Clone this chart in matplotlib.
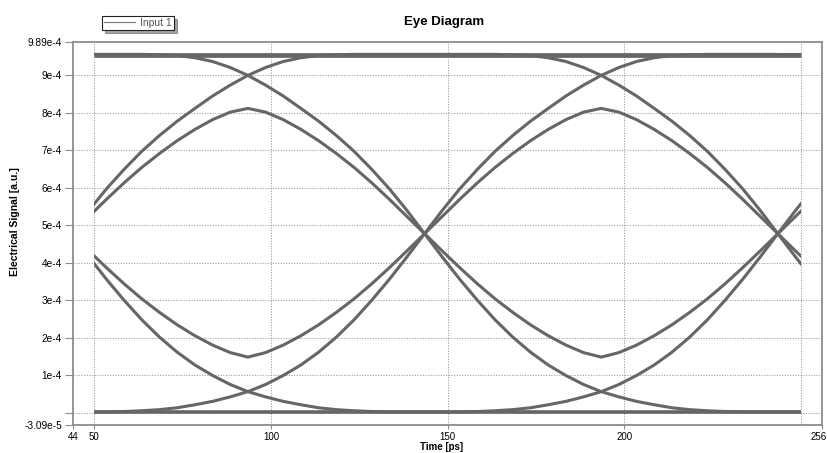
import matplotlib
matplotlib.use("Agg")
import matplotlib.pyplot as plt
import matplotlib.transforms as mtransforms
from matplotlib.lines import Line2D
from matplotlib.patches import Rectangle

plt.rcParams["font.family"] = ["Liberation Sans", "DejaVu Sans"]

# =====================================================
# DATA (signal values in units of 1e-4 a.u.)
# =====================================================
SCALE = 1e-4

# time offset inside one bit slot [ps], measured from the crossing point
TAU = [0, 5, 10, 15, 20, 25, 30, 35, 40, 45, 50,
       55, 60, 65, 70, 75, 80, 85, 90, 95, 100]

# start of each bit slot (eye crossing) [ps]
SLOT_STARTS = [43.5, 143.5, 243.5]

# shapes of the traces inside one bit slot
RISE_011 = [4.78, 5.40, 5.98, 6.50, 6.98, 7.40, 7.78, 8.12, 8.45, 8.74, 9.00,
            9.21, 9.37, 9.47, 9.53, 9.55, 9.56, 9.56, 9.56, 9.56, 9.56]
FALL_110 = [9.56, 9.56, 9.56, 9.56, 9.56, 9.55, 9.53, 9.47, 9.37, 9.21, 9.00,
            8.74, 8.45, 8.12, 7.78, 7.40, 6.98, 6.50, 5.98, 5.40, 4.78]
PEAK_010 = [4.78, 5.24, 5.70, 6.14, 6.55, 6.92, 7.26, 7.56, 7.82, 8.02, 8.12,
            8.02, 7.82, 7.56, 7.26, 6.92, 6.55, 6.14, 5.70, 5.24, 4.78]
RISE_001 = [0.03, 0.03, 0.03, 0.04, 0.06, 0.09, 0.14, 0.22, 0.31, 0.43, 0.57,
            0.76, 1.00, 1.28, 1.62, 2.02, 2.48, 3.00, 3.56, 4.16, 4.78]
FALL_100 = [4.78, 4.16, 3.56, 3.00, 2.48, 2.02, 1.62, 1.28, 1.00, 0.76, 0.57,
            0.43, 0.31, 0.22, 0.14, 0.09, 0.06, 0.04, 0.03, 0.03, 0.03]
DIP_101 = [4.78, 4.32, 3.87, 3.44, 3.04, 2.68, 2.35, 2.06, 1.81, 1.61, 1.49,
           1.61, 1.81, 2.06, 2.35, 2.68, 3.04, 3.44, 3.87, 4.32, 4.78]

SHAPES = [RISE_011, FALL_110, PEAK_010, RISE_001, FALL_100, DIP_101]

HIGH_LEVEL = 9.55
LOW_LEVEL = 0.03
T_START, T_END = 50, 250

# axis ticks
X_TICKS = [44, 50, 100, 150, 200, 256]
X_GRID = [50, 100, 150, 200, 250]
Y_TICKS = [-0.309, 0, 1, 2, 3, 4, 5, 6, 7, 8, 9, 9.89]
Y_LABELS = ["-3.09e-5", "", "1e-4", "2e-4", "3e-4", "4e-4", "5e-4",
            "6e-4", "7e-4", "8e-4", "9e-4", "9.89e-4"]

# =====================================================
# PLOT
# =====================================================
TRACE_COLOR = "#666666"
GRID_COLOR = "#9e9e9e"
SPINE_COLOR = "#8c8c8c"

fig = plt.figure(figsize=(8.28, 4.53), dpi=100)
ax = fig.add_axes([0.0882, 0.0627, 0.9046, 0.8446])

for start in SLOT_STARTS:
    x = [start + t for t in TAU]
    for shape in SHAPES:
        line, = ax.plot(x, [v * SCALE for v in shape],
                        color=TRACE_COLOR, linewidth=2.2,
                        solid_capstyle="butt", solid_joinstyle="round",
                        zorder=3)
        # traces only exist between 50 ps and 250 ps
        line.set_clip_path(Rectangle((T_START, -1.0), T_END - T_START, 3.0,
                                     transform=ax.transData))

ax.plot([T_START, T_END], [HIGH_LEVEL * SCALE] * 2, color=TRACE_COLOR,
        linewidth=3.4, solid_capstyle="butt", zorder=3)
ax.plot([T_START, T_END], [LOW_LEVEL * SCALE] * 2, color=TRACE_COLOR,
        linewidth=2.6, solid_capstyle="butt", zorder=3)

ax.set_xlim(44, 256)
ax.set_ylim(-0.309 * SCALE, 9.89 * SCALE)

ax.set_xticks(X_TICKS)
ax.set_xticklabels([str(t) for t in X_TICKS])
ax.set_yticks([v * SCALE for v in Y_TICKS])
ax.set_yticklabels(Y_LABELS)

ax.tick_params(axis="x", length=3, width=0.8, color=SPINE_COLOR, pad=2,
               labelsize=7)
ax.tick_params(axis="y", length=6, width=0.8, color=SPINE_COLOR, pad=2,
               labelsize=7.3)

# keep the right-most tick label inside the picture
shift = mtransforms.ScaledTranslation(-3 / 100, 0, fig.dpi_scale_trans)
last = ax.get_xticklabels()[-1]
last.set_transform(last.get_transform() + shift)

ax.grid(False)
for gx in X_GRID:
    ax.axvline(gx, color=GRID_COLOR, linestyle=(0, (1.2, 1.5)),
               linewidth=0.7, zorder=1)
for gy in Y_TICKS[1:-1]:
    ax.axhline(gy * SCALE, color=GRID_COLOR, linestyle=(0, (1.2, 1.5)),
               linewidth=0.7, zorder=1)

for side in ["left", "right", "top", "bottom"]:
    ax.spines[side].set_color(SPINE_COLOR)
    ax.spines[side].set_linewidth(1.3)

fig.text(0.536, 1 - 22 / 453, "Eye Diagram", ha="center", va="center",
         fontsize=9.5, fontweight="bold")
fig.text(442 / 828, 1 - 446.5 / 453, "Time [ps]", ha="center", va="center",
         fontsize=7, fontweight="bold")
fig.text(15 / 828, 1 - 222 / 453, "Electrical Signal [a.u.]", ha="center",
         va="center", rotation=90, fontsize=7.5, fontweight="bold")

handle = Line2D([], [], color="#777777", linewidth=0.8)
leg = fig.legend([handle], ["Input 1"], loc="upper left",
                 bbox_to_anchor=(0.123, 0.965), fontsize=7.5,
                 frameon=True, fancybox=False, shadow=True,
                 handlelength=3.0, handletextpad=0.5, borderpad=0.2,
                 borderaxespad=0)
leg.get_frame().set_edgecolor("#222222")
leg.get_frame().set_linewidth(0.8)
for txt in leg.get_texts():
    txt.set_color("#555555")

fig.savefig("out.png", dpi=100)
plt.close(fig)
